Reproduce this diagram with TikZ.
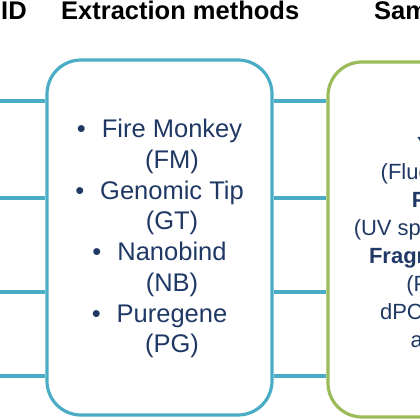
\documentclass[tikz,border=0pt]{standalone}
\usepackage{fontspec}
\setmainfont{Liberation Sans}
\usepackage{tikz}

\definecolor{boxblue}{HTML}{4BACC6}
\definecolor{boxgreen}{HTML}{9BBB59}
\definecolor{textnavy}{HTML}{1F3864}
\newcommand{\bul}{\llap{\textbullet\hspace{16pt}}}

\begin{document}
\begin{tikzpicture}[x=1pt, y=-1pt,
    heading/.style={inner sep=0pt, anchor=base west, font=\fontsize{25.5}{30}\selectfont\bfseries},
    panel/.style={draw=#1, line width=3.2pt, rounded corners=34pt, inner sep=0pt},
    link/.style={draw=boxblue, line width=3.2pt},
    listtext/.style={inner sep=0pt, align=center, text=textnavy}]
  \useasboundingbox (0,0) rectangle (420,420);
  \clip (0,0) rectangle (420,420);

  % Column headings
  \node[heading] (hid) at (1,19.5) {ID};
  \node[heading] (hext) at (61,19.5) {Extraction methods};
  \node[heading] (hqc) at (374,19.5) {Sample QC};

  % Panels
  \node[panel=boxblue, minimum width=225pt, minimum height=355pt] (extbox) at (159.5,237.5) {};
  \node[panel=boxgreen, minimum width=262pt, minimum height=355pt] (qcbox) at (459,239.5) {};

  % Panel contents
  \node[listtext, font=\fontsize{25.5}{30.7}\selectfont] (extlist) at (172,238.7)
    {\bul Fire Monkey\\(FM)\\\bul Genomic Tip\\(GT)\\\bul Nanobind\\(NB)\\\bul Puregene\\(PG)};
  \node[listtext, font=\fontsize{22}{27.9}\selectfont] (qclist) at (443,244)
    {\textbf{Yield}\\(Fluorimetry)\\\textbf{Purity}\\(UV spectrometry)\\\textbf{Fragment size}\\(PFGE,\\dPCR-based\\assay)};

  % Connectors
  \coordinate (s1) at (-5,101);
  \coordinate (s2) at (-5,198);
  \coordinate (s3) at (-5,292);
  \coordinate (s4) at (-5,376);
  \draw[link] (s1) -- (s1 -| extbox.west);
  \draw[link] (s2) -- (s2 -| extbox.west);
  \draw[link] (s3) -- (s3 -| extbox.west);
  \draw[link] (s4) -- (s4 -| extbox.west);
  \draw[link] (s1 -| extbox.east) -- (s1 -| qcbox.west);
  \draw[link] (s2 -| extbox.east) -- (s2 -| qcbox.west);
  \draw[link] (s3 -| extbox.east) -- (s3 -| qcbox.west);
  \draw[link] (s4 -| extbox.east) -- (s4 -| qcbox.west);
\end{tikzpicture}
\end{document}
